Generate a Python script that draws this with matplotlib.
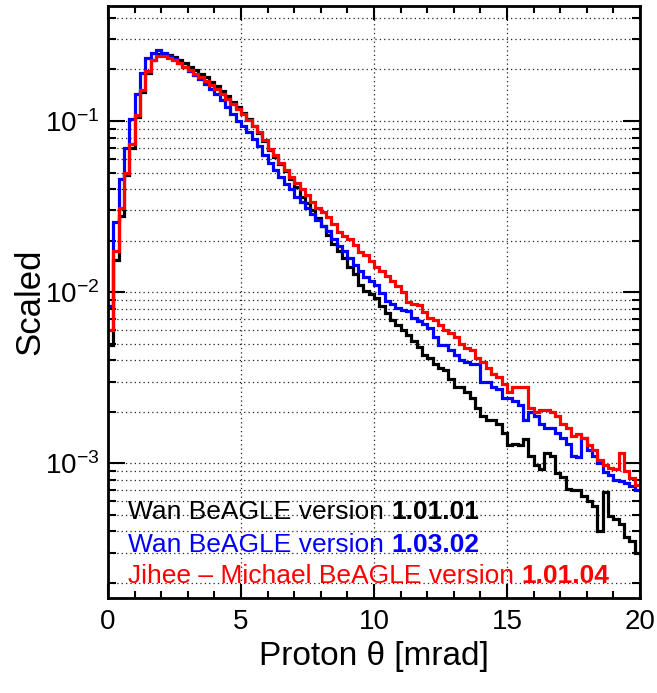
import matplotlib
matplotlib.use("Agg")
import matplotlib.pyplot as plt
import numpy as np
from matplotlib.ticker import MultipleLocator, LogLocator, NullFormatter

# 100 bins of 0.2 mrad between 0 and 20 mrad
theta_edges = np.linspace(0.0, 20.0, 101)

wan_10101 = [
    0.0049, 0.0155, 0.0278, 0.0484, 0.0695, 0.105, 0.147, 0.192, 0.227, 0.245,
    0.248, 0.243, 0.236, 0.227, 0.217, 0.208, 0.198, 0.189, 0.180, 0.170,
    0.160, 0.150, 0.140, 0.130, 0.121, 0.112, 0.103, 0.094, 0.085, 0.076,
    0.068, 0.062, 0.056, 0.051, 0.046, 0.041, 0.036, 0.033, 0.030, 0.027,
    0.0245, 0.0215, 0.019, 0.0175, 0.0158, 0.014, 0.0127, 0.011, 0.0102, 0.0097,
    0.0092, 0.0083, 0.0075, 0.0069, 0.0064, 0.0060, 0.0056, 0.0052, 0.0048, 0.0043,
    0.0041, 0.0038, 0.0036, 0.0035, 0.0031, 0.0028, 0.0028, 0.0026, 0.0024, 0.0021,
    0.0019, 0.0018, 0.0018, 0.0017, 0.0015, 0.00127, 0.0013, 0.00128, 0.00138, 0.0011,
    0.00098, 0.00092, 0.00115, 0.0011, 0.00088, 0.00083, 0.00071, 0.0007, 0.0007, 0.00064,
    0.0006, 0.00056, 0.0004, 0.00068, 0.00049, 0.00047, 0.00044, 0.00037, 0.00035, 0.0003,
]

wan_10302 = [
    0.0083, 0.0258, 0.046, 0.0695, 0.1025, 0.144, 0.192, 0.233, 0.251, 0.259,
    0.250, 0.241, 0.230, 0.219, 0.207, 0.196, 0.185, 0.175, 0.165, 0.154,
    0.143, 0.132, 0.121, 0.110, 0.100, 0.093, 0.086, 0.079, 0.071, 0.063,
    0.057, 0.052, 0.047, 0.043, 0.040, 0.036, 0.0335, 0.031, 0.0285, 0.0265,
    0.0245, 0.0228, 0.0205, 0.0187, 0.0173, 0.0158, 0.0144, 0.0133, 0.0122, 0.0116,
    0.0110, 0.0099, 0.0089, 0.0085, 0.0081, 0.0079, 0.0078, 0.0071, 0.0068, 0.0065,
    0.0062, 0.0055, 0.0049, 0.0049, 0.0046, 0.0043, 0.0040, 0.0039, 0.0038, 0.0038,
    0.0030, 0.0030, 0.0028, 0.0027, 0.0024, 0.0024, 0.0023, 0.0022, 0.0018, 0.0020,
    0.0019, 0.0017, 0.0016, 0.0016, 0.0015, 0.0014, 0.0013, 0.0011, 0.00108, 0.0014,
    0.0012, 0.0011, 0.0010, 0.00089, 0.00085, 0.0008, 0.00079, 0.00077, 0.00074, 0.0007,
]

jm_10104 = [
    0.0060, 0.0175, 0.031, 0.0496, 0.073, 0.108, 0.151, 0.197, 0.227, 0.239,
    0.240, 0.234, 0.226, 0.217, 0.206, 0.198, 0.189, 0.180, 0.172, 0.162,
    0.153, 0.143, 0.135, 0.126, 0.118, 0.110, 0.102, 0.093, 0.086, 0.077,
    0.069, 0.063, 0.057, 0.052, 0.047, 0.0435, 0.040, 0.037, 0.0335, 0.031,
    0.0292, 0.0275, 0.0250, 0.0225, 0.0212, 0.0203, 0.0188, 0.0172, 0.0164, 0.0152,
    0.0140, 0.0132, 0.0124, 0.0116, 0.0108, 0.0100, 0.0088, 0.0085, 0.0084, 0.0077,
    0.0071, 0.0069, 0.0064, 0.0060, 0.0058, 0.0055, 0.0050, 0.0047, 0.0046, 0.0041,
    0.0039, 0.0036, 0.0033, 0.0032, 0.0029, 0.0026, 0.0028, 0.0028, 0.0028, 0.0021,
    0.0020, 0.00205, 0.00205, 0.0020, 0.0019, 0.0017, 0.0016, 0.00145, 0.00148, 0.0014,
    0.00128, 0.0012, 0.00105, 0.00098, 0.00094, 0.00092, 0.00115, 0.0009, 0.00082, 0.00075,
]

series_names = ["Wan BeAGLE version ", "Wan BeAGLE version ", "Jihee \u2013 Michael BeAGLE version "]
series_versions = ["1.01.01", "1.03.02", "1.01.04"]
series_colors = ["#000000", "#0000ff", "#ff0000"]

plt.rcParams["font.family"] = ["Liberation Sans", "DejaVu Sans"]
plt.rcParams["mathtext.fontset"] = "custom"
plt.rcParams["mathtext.rm"] = "Liberation Sans"
plt.rcParams["mathtext.it"] = "Liberation Sans:italic"
plt.rcParams["mathtext.bf"] = "Liberation Sans:bold"

fig = plt.figure(figsize=(6.57, 6.93), dpi=100)
ax = fig.add_axes([108 / 657, 1 - 598 / 693, 532 / 657, 592 / 693])

for values, color in zip([wan_10101, wan_10302, jm_10104], series_colors):
    ax.stairs(values, theta_edges, color=color, linewidth=2.3, baseline=None)

ax.set_xlim(0, 20)
ax.set_yscale("log")
ax.set_ylim(1.63e-4, 0.47)

ax.xaxis.set_major_locator(MultipleLocator(5))
ax.xaxis.set_minor_locator(MultipleLocator(1))
ax.yaxis.set_major_locator(LogLocator(base=10))
ax.yaxis.set_minor_locator(LogLocator(base=10, subs=np.arange(2, 10)))
ax.yaxis.set_minor_formatter(NullFormatter())

ax.grid(True, axis="x", which="major", color="#222222", linestyle=(0, (1, 2.5)), linewidth=0.9)
ax.grid(True, axis="y", which="both", color="#222222", linestyle=(0, (1, 2.5)), linewidth=0.9)
ax.set_axisbelow(True)

ax.tick_params(axis="both", which="both", direction="in", top=True, right=True, width=1.5)
ax.tick_params(axis="x", which="major", length=10, labelsize=20, pad=8)
ax.tick_params(axis="x", which="minor", length=5)
ax.tick_params(axis="y", which="major", length=12, labelsize=20, pad=6)
ax.tick_params(axis="y", which="minor", length=6)
for spine in ax.spines.values():
    spine.set_linewidth(2)

ax.set_xlabel("Proton \u03b8 [mrad]", fontsize=24)
ax.xaxis.set_label_coords(0.5, -0.072)
ax.set_ylabel("Scaled", fontsize=25)
ax.yaxis.set_label_coords(-0.115, 0.5)

# legend-like text lines, version number in bold
line_y = [0.133, 0.077, 0.025]
for name, version, color, y in zip(series_names, series_versions, series_colors, line_y):
    t = ax.text(0.037, y, name, transform=ax.transAxes, color=color, fontsize=19, va="baseline", ha="left")
    ax.annotate(version, xy=(1, 0), xycoords=t, xytext=(0, 0), textcoords="offset points",
                color=color, fontsize=19, fontweight="bold", va="bottom", ha="left")

fig.savefig("out.png", dpi=100)
